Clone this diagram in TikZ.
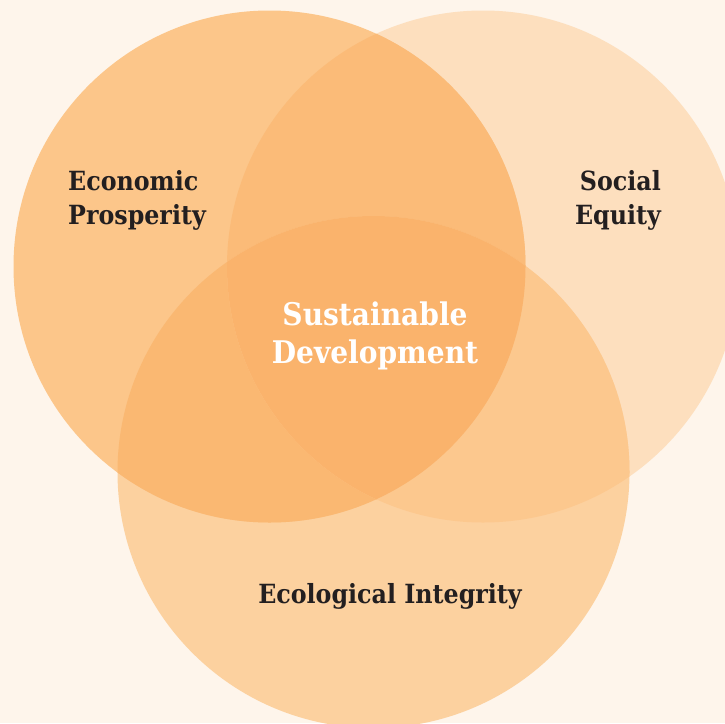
\documentclass[tikz,border=0pt]{standalone}
\usepackage{fontspec}
\setmainfont{DejaVu Serif Condensed}
\begin{document}
\definecolor{paper}{HTML}{FEF5EB}
\definecolor{econ}{HTML}{FCC68A}
\definecolor{soc}{HTML}{FDDFBE}
\definecolor{eco}{HTML}{FCD19F}
\definecolor{econsoc}{HTML}{FBBB78}
\definecolor{econeco}{HTML}{FAB872}
\definecolor{soceco}{HTML}{FCC88E}
\definecolor{core}{HTML}{FAB36C}
\definecolor{ink}{HTML}{231F20}
\begin{tikzpicture}[x=1pt,y=-1pt,
  label/.style={font=\bfseries\fontsize{26.4}{34}\selectfont, text=ink, inner sep=0pt},
  corelabel/.style={font=\bfseries\fontsize{31.2}{38}\selectfont, text=white, inner sep=0pt, align=center}]
\useasboundingbox (0,0) rectangle (725,723);
\fill[paper] (0,0) rectangle (725,723);
\def\R{256}
\coordinate (E) at (269.5,266.5);
\coordinate (S) at (483,266.5);
\coordinate (G) at (373.5,472);
% single circles
\fill[soc] (S) circle (\R);
\fill[eco] (G) circle (\R);
\fill[econ] (E) circle (\R);
% pairwise overlaps
\begin{scope}
  \clip (E) circle (\R);
  \fill[econsoc] (S) circle (\R);
\end{scope}
\begin{scope}
  \clip (E) circle (\R);
  \fill[econeco] (G) circle (\R);
\end{scope}
\begin{scope}
  \clip (S) circle (\R);
  \fill[soceco] (G) circle (\R);
\end{scope}
% triple overlap
\begin{scope}
  \clip (E) circle (\R);
  \clip (S) circle (\R);
  \fill[core] (G) circle (\R);
\end{scope}
% labels
\node[label, anchor=west, align=left] (econlabel) at (68,200) {Economic\\Prosperity};
\node[label, anchor=east, align=right] (soclabel) at (661,200) {Social\\Equity};
\node[label, anchor=center] (ecolabel) at (390,596) {Ecological Integrity};
\node[corelabel] (corelabel) at (375,336) {Sustainable\\Development};
\end{tikzpicture}
\end{document}
